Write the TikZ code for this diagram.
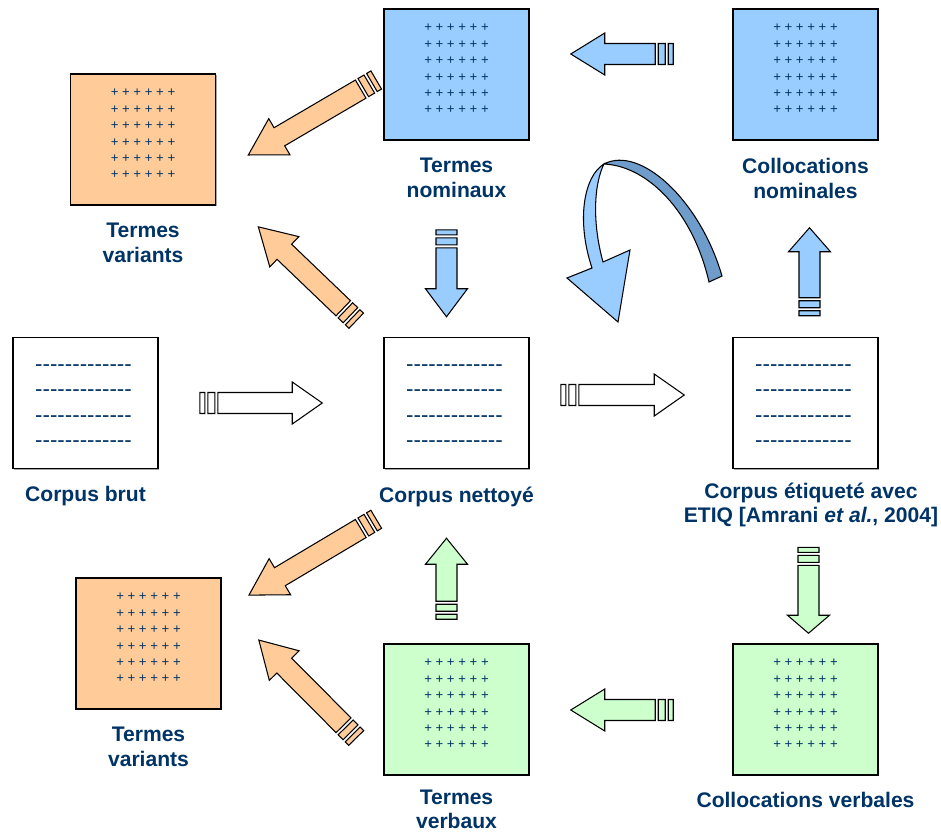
\documentclass[tikz,border=0pt]{standalone}
\usepackage{fontspec}
\setmainfont{Liberation Sans}
\usetikzlibrary{positioning,calc,shadows}

\definecolor{navy}{HTML}{003366}
\definecolor{nomblue}{HTML}{99CCFF}
\definecolor{varorange}{HTML}{FFCC99}
\definecolor{verbgreen}{HTML}{CCFFCC}
\definecolor{twistblue}{HTML}{6E9CCB}

\tikzset{
  doc/.style={draw, line width=0.9pt, minimum width=2.9cm, minimum height=2.62cm, inner sep=0pt,
    drop shadow={shadow xshift=0.7pt, shadow yshift=-0.7pt, fill=gray!70, opacity=1}},
  caption/.style={font=\bfseries\fontsize{12}{14}\selectfont, text=navy, align=center, inner sep=0pt},
  pluses/.style={font=\fontsize{7.5}{9}\selectfont, text=navy, inner sep=0pt},
  dashes/.style={font=\fontsize{12.7}{14}\selectfont, text=navy, inner sep=0pt},
  blockarrow/.style={draw=black, line width=0.6pt, line join=miter},
}

% six rows of crosses inside a term box
\newcommand\plusrows[1]{%
  \foreach \dy [count=\r] in {-47,-30.6,-14.2,2.2,18.6,35}
    \node[pluses, anchor=base] (#1-p\r) at ($(#1)+(0,\dy+4.4)$) {+ + + + + +};}
% four rows of dashes inside a text box
\newcommand\dashrows[1]{%
  \foreach \dy [count=\r] in {-38,-12.5,13,38.5}
    \node[dashes, anchor=base] (#1-d\r) at ($(#1)+(-2,\dy+6)$) {\foreach \k in {1,...,13}{-}};}

% striped block arrow from tail to tip, [head length] in px
\newcommand\stripearrow[4][30]{%
  \path (#3) coordinate (sa-tail) (#4) coordinate (sa-tip);
  \pgfpointdiff{\pgfpointanchor{sa-tail}{center}}{\pgfpointanchor{sa-tip}{center}}%
  \pgfgetlastxy{\sadx}{\sady}%
  \pgfmathsetmacro\saang{atan2(\sady,\sadx)}%
  \pgfmathsetmacro\salen{veclen(\sadx,\sady)/0.569055}%
  \pgfmathsetmacro\sabase{\salen-#1}%
  \begin{scope}[shift={(sa-tail)}, rotate=\saang, x=0.02cm, y=0.02cm]
    \filldraw[blockarrow, fill=#2] (0,-10.5) rectangle (5,10.5) (8,-10.5) rectangle (15,10.5)
      (18,-10.5) -- (\sabase,-10.5) -- (\sabase,-21) -- (\salen,0) -- (\sabase,21)
      -- (\sabase,10.5) -- (18,10.5) -- cycle;
  \end{scope}}

\begin{document}
\begin{tikzpicture}[x=0.02cm, y=-0.02cm]
    \useasboundingbox (0,0) rectangle (941,832);

    % top row
    \node[doc, fill=varorange] (vt) at (143,139.5) {};
    \node[doc, fill=nomblue] (tn) at (456.5,74.5) {};
    \node[doc, fill=nomblue] (cn) at (805.5,74.5) {};
    % middle row
    \node[doc, fill=white] (brut) at (85.5,403) {};
    \node[doc, fill=white] (net) at (456.5,403) {};
    \node[doc, fill=white] (etiq) at (805.5,403) {};
    % bottom row
    \node[doc, fill=varorange] (vb) at (148.5,643.5) {};
    \node[doc, fill=verbgreen] (tv) at (456.5,709.5) {};
    \node[doc, fill=verbgreen] (cv) at (805.5,709.5) {};

    \plusrows{vt} \plusrows{tn} \plusrows{cn}
    \plusrows{vb} \plusrows{tv} \plusrows{cv}
    \dashrows{brut} \dashrows{net} \dashrows{etiq}

    % captions
    \node[caption, below=0.34cm of vt] (vt-lbl) {Termes\\variants};
    \node[caption, below=0.34cm of tn] (tn-lbl) {Termes\\nominaux};
    \node[caption, below=0.34cm of cn] (cn-lbl) {Collocations\\nominales};
    \node[caption, below=0.34cm of brut] (brut-lbl) {Corpus brut};
    \node[caption, below=0.34cm of net] (net-lbl) {Corpus nettoyé};
    \node[caption, below=0.26cm of etiq, xshift=0.11cm] (etiq-lbl)
        {Corpus étiqueté avec\\ETIQ [Amrani \textit{et al.}, 2004]};
    \node[caption, below=0.34cm of vb] (vb-lbl) {Termes\\variants};
    \node[caption, font=\bfseries\fontsize{12}{13.5}\selectfont, below=0.28cm of tv] (tv-lbl) {Termes\\verbaux};
    \node[caption, below=0.32cm of cv] (cv-lbl) {Collocations verbales};

    % processing chain
    \stripearrow{white}{$(brut.east)+(41,0)$}{$(net.west)+(-61,0)$}
    \stripearrow{white}{$(net.east)+(31,-8)$}{$(etiq.west)+(-48,-8)$}
    % nominal branch
    \stripearrow[24]{nomblue}{$(etiq.north)+(4,-21)$}{$(cn.south)+(4,87)$}
    \stripearrow[34]{nomblue}{$(cn.west)+(-59,-20.5)$}{$(tn.east)+(41,-20.5)$}
    \stripearrow[28]{nomblue}{$(tn.south)+(-10,89)$}{$(net.north)+(-10,-20)$}
    % verbal branch
    \stripearrow[18]{verbgreen}{$(etiq.south)+(3,78)$}{$(cv.north)+(3,-10)$}
    \stripearrow[34]{verbgreen}{$(cv.west)+(-59,0.5)$}{$(tv.east)+(41,0.5)$}
    \stripearrow[26]{verbgreen}{$(tv.north)+(-10,-24)$}{$(net.south)+(-10,69)$}
    % variants
    \stripearrow[36]{varorange}{$(tn.west)+(-7,5.5)$}{$(vt.east)+(32,15.5)$}
    \stripearrow[36]{varorange}{$(net.north west)+(-27,-16)$}{$(vt.south east)+(42,21)$}
    \stripearrow[36]{varorange}{$(net.south west)+(-7,50)$}{$(vb.north east)+(27,18)$}
    \stripearrow[36]{varorange}{$(tv.west)+(-27,28.5)$}{$(vb.east)+(37,-3.5)$}

    % curved return arrow
    \filldraw[blockarrow, fill=nomblue] (604,164) .. controls (584,176) and (576,220) .. (592,268)
        -- (567,278) -- (618,322) -- (630,250) -- (603,262)
        .. controls (592,222) and (594,184) .. (604,164) -- cycle;
    \filldraw[blockarrow, fill=twistblue] (604,164) .. controls (640,145) and (700,200) .. (722,276)
        -- (709,282) .. controls (693,212) and (648,166) .. (604,164) -- cycle;
\end{tikzpicture}
\end{document}
